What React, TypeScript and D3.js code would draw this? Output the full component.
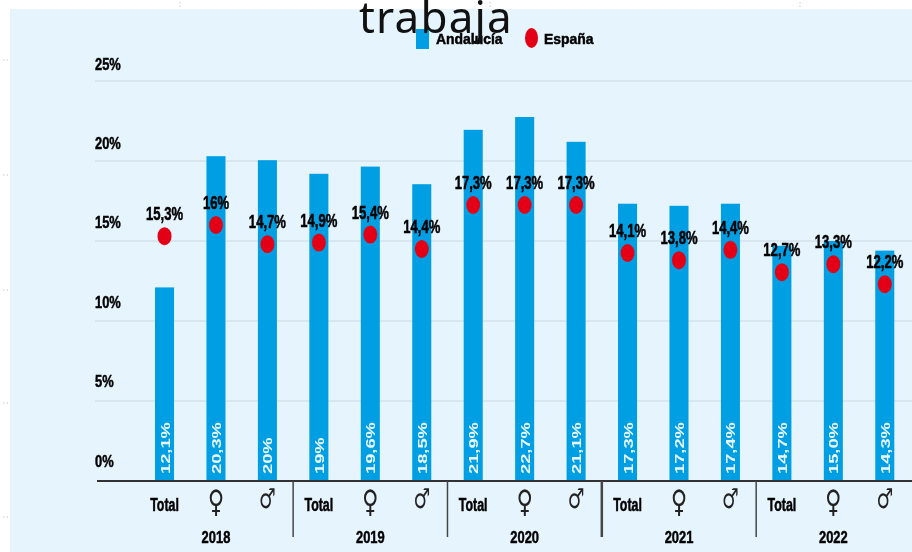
import React from "react";
import * as d3 from "d3";

const years = ["2018", "2019", "2020", "2021", "2022"];
const groups = ["Total", "♀", "♂"];
const andalucia = [12.1, 20.3, 20.05, 19.2, 19.65, 18.55, 21.95, 22.75, 21.2, 17.33, 17.2, 17.33, 14.7, 15.0, 14.4];
const andaluciaLabels = ["12,1%", "20,3%", "20%", "19%", "19,6%", "18,5%", "21,9%", "22,7%", "21,1%", "17,3%", "17,2%", "17,4%", "14,7%", "15,0%", "14,3%"];
const espana = [15.3, 16, 14.8, 14.9, 15.4, 14.5, 17.25, 17.25, 17.25, 14.25, 13.8, 14.45, 13.05, 13.55, 12.3];
const espanaLabels = ["15,3%", "16%", "14,7%", "14,9%", "15,4%", "14,4%", "17,3%", "17,3%", "17,3%", "14,1%", "13,8%", "14,4%", "12,7%", "13,3%", "12,2%"];
const yTicks = [0, 5, 10, 15, 20, 25];
const marginTicksY = [60, 175, 290, 403, 517];
const marginTicksX = [180, 490, 800];

const BLUE = "#009FE3";
const RED = "#E30613";
const INK = "#000";
const NARROW = "'Liberation Sans Narrow','Liberation Sans',sans-serif";
const inkStyle = { fill: INK, stroke: INK, strokeWidth: 0.5 };

export default function App() {
  const y = d3.scaleLinear().domain([0, 25]).range([481, 81]);
  const yLabel = d3.scaleLinear().domain([0, 25]).range([466.5, 69.5]);
  const idx = d3.range(andalucia.length);
  const x = d3.scaleBand<number>().domain(idx).range([138.8, 910.5]).paddingInner(0.63).paddingOuter(0.315);
  const bw = x.bandwidth();
  const cx = (i: number) => (x(i) as number) + bw / 2;
  const sep = (k: number) => (cx(k * 3 - 1) + cx(k * 3)) / 2;
  return (
    <svg width={912} height={552} style={{ position: "absolute", left: 0, top: 0, display: "block", background: "#fff" }}>
      <defs>
        <filter id="soft" x="-5%" y="-5%" width="110%" height="110%">
          <feGaussianBlur stdDeviation="0.7" />
        </filter>
      </defs>
      <rect x={10} y={9} width={902} height={543} fill="#E6F4FD" />
      {marginTicksY.map((t) => (
        <line key={t} x1={3} x2={8} y1={t} y2={t} stroke="#ccc" strokeDasharray="1.5 2" />
      ))}
      {marginTicksX.map((t) => (
        <line key={t} x1={t} x2={t} y1={2} y2={8} stroke="#ccc" strokeDasharray="1.5 2" />
      ))}
      <g filter="url(#soft)">
        {yTicks.filter((t) => t > 0).map((t) => (
          <line key={t} x1={95} x2={912} y1={y(t)} y2={y(t)} stroke="#D3E2EA" strokeWidth={1.5} />
        ))}
        {yTicks.map((t) => (
          <text key={t} fontFamily={NARROW} fontWeight={700} fontSize={17} style={inkStyle}
            transform={`translate(95 ${yLabel(t)}) scale(0.76 1)`}>{t}%</text>
        ))}
        {idx.map((i) => (
          <rect key={i} x={x(i)} y={y(andalucia[i])} width={bw} height={y(0) - y(andalucia[i])} fill={BLUE} />
        ))}
        {idx.map((i) => (
          <text key={i} transform={`translate(${cx(i) + 5} 474) rotate(-90) scale(1.22 0.88)`} fontFamily={NARROW}
            fontWeight={700} fontSize={15} fill="#EAF6FD">{andaluciaLabels[i]}</text>
        ))}
        <line x1={97} x2={912} y1={481} y2={481} stroke="#333" strokeWidth={2} />
        {[1, 2, 3, 4].map((k) => (
          <line key={k} x1={sep(k)} x2={sep(k)} y1={481} y2={537} stroke="#444" strokeWidth={k === 3 ? 2.5 : 1.5} />
        ))}
        {idx.map((i) => (
          <ellipse key={i} cx={cx(i)} cy={y(espana[i])} rx={7} ry={9} fill={RED} />
        ))}
        {idx.map((i) => (
          <text key={i} textAnchor="middle" fontFamily={NARROW} fontWeight={700} fontSize={17} style={inkStyle}
            transform={`translate(${cx(i)} ${y(espana[i]) - 16}) scale(0.77 1.05)`}>{espanaLabels[i]}</text>
        ))}
        {idx.map((i) => {
          const g = groups[i % 3];
          if (g === "Total")
            return (
              <text key={i} textAnchor="middle" fontFamily={NARROW} fontWeight={700} fontSize={17} style={inkStyle}
                transform={`translate(${cx(i)} 511) scale(0.73 1.05)`}>{g}</text>
            );
          return g === "♀" ? (
            <text key={i} textAnchor="middle" fontFamily="'DejaVu Sans'" fontSize={25} fill="#222"
              transform={`translate(${cx(i)} 512) scale(0.9 1.25)`}>{g}</text>
          ) : (
            <text key={i} textAnchor="middle" fontFamily="'DejaVu Sans'" fontSize={22} fill="#222"
              transform={`translate(${cx(i)} 508) scale(0.85 1.25)`}>{g}</text>
          );
        })}
        {years.map((yr, k) => (
          <text key={yr} textAnchor="middle" fontFamily={NARROW} fontWeight={700} fontSize={17} style={inkStyle}
            transform={`translate(${cx(k * 3 + 1)} 543) scale(0.76 1)`}>{yr}</text>
        ))}
        <rect x={416} y={29} width={13} height={20} fill={BLUE} />
        <text fontFamily={NARROW} fontWeight={700} fontSize={15} style={inkStyle} transform="translate(436 44) scale(0.93 1)">Andalucía</text>
        <ellipse cx={531.5} cy={38} rx={6.5} ry={10} fill={RED} />
        <text fontFamily={NARROW} fontWeight={700} fontSize={15} style={inkStyle} transform="translate(544 44) scale(0.93 1)">España</text>
      </g>
      <text x={436} y={33} textAnchor="middle" fontFamily="'Noto Sans'" fontSize={44} fill="#111" letterSpacing={1.2}>trabaja</text>
    </svg>
  );
}
